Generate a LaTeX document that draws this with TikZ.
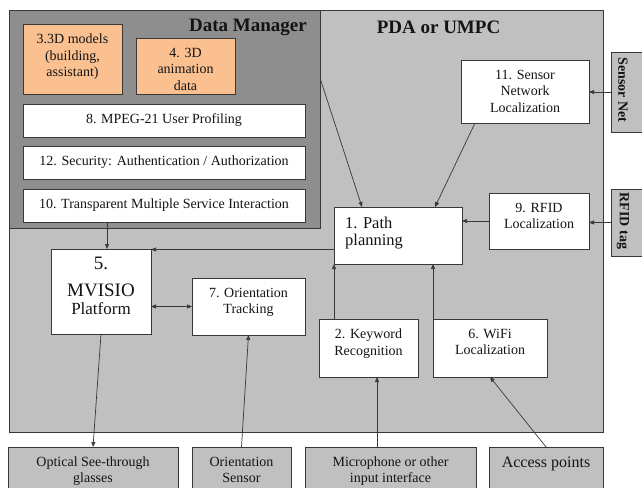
\documentclass[tikz,border=0pt]{standalone}
\usepackage{fontspec}
\setmainfont{Liberation Serif}
\usetikzlibrary{arrows.meta}
\definecolor{pdagray}{HTML}{C0C0C0}
\definecolor{dmgray}{HTML}{8E8E8E}
\definecolor{orangebox}{HTML}{FAC090}
\definecolor{edge}{HTML}{383838}
\definecolor{txt}{HTML}{141414}
\begin{document}
\begin{tikzpicture}[x=1pt,y=-1pt,
  box/.style={draw=edge, line width=0.8pt, inner sep=0pt, outer sep=0pt},
  wbox/.style={box, fill=white},
  obox/.style={box, fill=orangebox},
  gbox/.style={box, fill=pdagray},
  tx/.style={anchor=north, yshift=-10pt, align=center, inner sep=0pt, text=txt, font=\rmfamily\fontsize{14}{16.5}\selectfont},
  txb/.style={tx, font=\rmfamily\fontsize{14}{16}\selectfont},
  one/.style={font=\rmfamily\fontsize{14}{16.5}\selectfont, text=txt},
  ttl/.style={inner sep=0pt, text=txt, font=\rmfamily\fontsize{19}{22}\selectfont\bfseries},
  side/.style={inner sep=0pt, text=txt, rotate=-90, font=\rmfamily\fontsize{14}{16}\selectfont\bfseries},
  arr/.style={draw=edge, line width=0.7pt, -{Triangle[length=5pt,width=4pt]}},
  darr/.style={draw=edge, line width=0.7pt, {Triangle[length=5pt,width=4pt]}-{Triangle[length=5pt,width=4pt]}}
]
\useasboundingbox (0,0) rectangle (642,487);
\clip (0,0) rectangle (642,487);
\fill[white] (0,0) rectangle (642,487);

% containers
\node[gbox, minimum width=594pt, minimum height=422pt] (pda) at (306,221) {};
\node[box, fill=dmgray, minimum width=311pt, minimum height=218pt] (dm) at (164.5,119) {};
\node[ttl] (dmt) at (248,27) {Data Manager};
\node[ttl] (pdat) at (438.5,27) {PDA or UMPC};

% data manager contents
\node[obox, minimum width=99pt, minimum height=70pt,
  label={[tx]north:{3.3D models\\(building,\\assistant)}}] (b3) at (72.5,59) {};
\node[obox, minimum width=99pt, minimum height=56pt,
  label={[tx]north:{4. 3D\\animation\\data}}] (b4) at (185.5,66) {};
\node[wbox, one, minimum width=282pt, minimum height=33pt] (b8) at (164,120.5) {8. MPEG-21 User Profiling};
\node[wbox, one, minimum width=282pt, minimum height=33pt] (b12) at (164,162.5) {12. Security: Authentication / Authorization};
\node[wbox, one, minimum width=282pt, minimum height=33pt] (b10) at (164,205.5) {10. Transparent Multiple Service Interaction};

% PDA contents
\node[wbox, minimum width=128pt, minimum height=63pt,
  label={[tx]north:{11. Sensor\\Network\\Localization}}] (b11) at (525,91.5) {};
\node[wbox, minimum width=100pt, minimum height=56pt,
  label={[tx]north:{9. RFID\\Localization}}] (b9) at (539,221) {};
\node[wbox, minimum width=128pt, minimum height=57pt,
  label={[tx, anchor=north west, xshift=11pt, align=left, font=\rmfamily\fontsize{16.5}{17}\selectfont]north west:{1. Path\\planning}}] (b1) at (398,235.5) {};
\node[wbox, minimum width=100pt, minimum height=85pt,
  label={[tx, yshift=2pt, font=\rmfamily\fontsize{19}{27}\selectfont]north:{5.\\MVISIO\\[-9pt]{\fontsize{17}{18}\selectfont Platform}}}] (b5) at (101,291.5) {};
\node[wbox, minimum width=113pt, minimum height=57pt,
  label={[tx]north:{7. Orientation\\Tracking}}] (b7) at (248.5,306.5) {};
\node[wbox, minimum width=99pt, minimum height=58pt,
  label={[tx]north:{2. Keyword\\Recognition}}] (b2) at (368.5,348) {};
\node[wbox, minimum width=114pt, minimum height=58pt,
  label={[tx]north:{6. WiFi\\Localization}}] (b6) at (490,348) {};

% external side boxes
\node[gbox, minimum width=39pt, minimum height=80pt] (sn) at (630.5,92) {};
\node[side] (snt) at (623,90) {Sensor Net};
\node[gbox, minimum width=39pt, minimum height=67pt] (rt) at (630.5,222.5) {};
\node[side] (rtt) at (623,221) {RFID tag};

% bottom boxes
\node[gbox, minimum width=170pt, minimum height=60pt,
  label={[txb]north:{Optical See-through\\glasses}}] (op) at (93,477) {};
\node[gbox, minimum width=99pt, minimum height=60pt,
  label={[txb]north:{Orientation\\Sensor}}] (os) at (241.5,477) {};
\node[gbox, minimum width=171pt, minimum height=60pt,
  label={[txb]north:{Microphone or other\\input interface}}] (mic) at (390.5,477) {};
\node[gbox, minimum width=114pt, minimum height=60pt,
  label={[tx, font=\rmfamily\fontsize{16}{18}\selectfont]north:{Access points}}] (ap) at (546,477) {};

% connectors
\draw[arr] (sn.west) -- (sn.west -| b11.east);
\draw[arr] (rt.west) -- (rt.west -| b9.east);
\draw[arr] (b9.west) -- (b9.west -| b1.east);
\draw[arr] ([xshift=-50pt]b11.south) -- ([xshift=37pt]b1.north);
\draw[arr] ([yshift=41pt]dm.east) -- ([xshift=-36pt]b1.north);
\draw[arr] ([yshift=-14pt]b1.west) -- ([yshift=-14pt]b1.west -| b5.east);
\draw[arr] ([xshift=-57pt]b10.south) -- ([xshift=-57pt]b10.south |- b5.north);
\draw[darr] (b7.west -| b5.east) -- (b7.west);
\draw[arr] ([xshift=-34.5pt]b2.north) -- ([xshift=-34.5pt]b2.north |- b1.south);
\draw[arr] (b6.north west) -- (b6.north west |- b1.south);
\draw[arr] (b5.south) -- (op.north);
\draw[arr] (os.north) -- (b7.south);
\draw[arr] ([xshift=-13.5pt]mic.north) -- ([xshift=-13.5pt]mic.north |- b2.south);
\draw[arr] (ap.north) -- (b6.south);
\end{tikzpicture}
\end{document}
